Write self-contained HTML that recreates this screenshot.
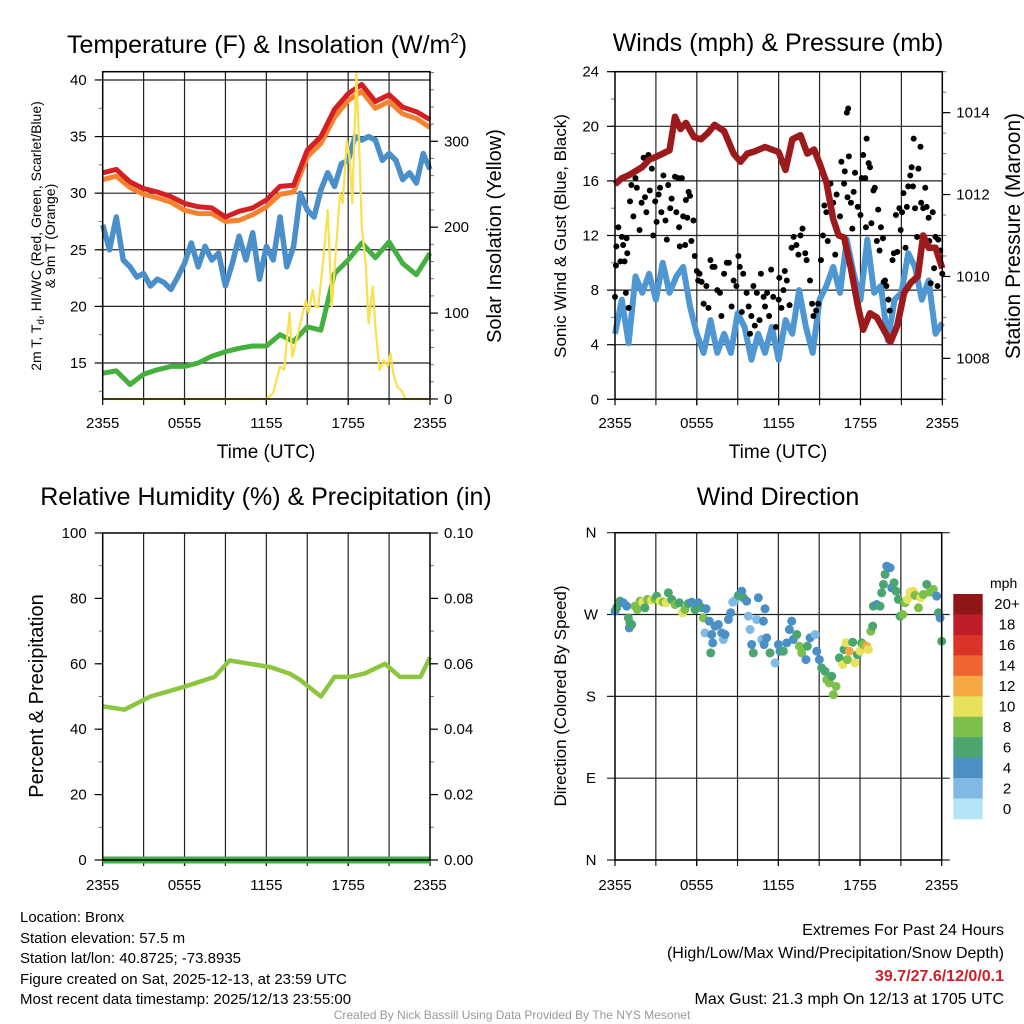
<!DOCTYPE html>
<html><head><meta charset="utf-8">
<style>
html,body{margin:0;padding:0;background:#fff;}
svg{display:block;font-family:"Liberation Sans",Arial,sans-serif;}
</style></head>
<body>
<svg id="c" width="1024" height="1024" viewBox="0 0 1024 1024" xmlns="http://www.w3.org/2000/svg">
<g id="g-text">
<text x="267" y="53" font-size="25" text-anchor="middle">Temperature (F) &amp; Insolation (W/m<tspan font-size="15" dy="-10">2</tspan><tspan dy="10">)</tspan></text>
<text x="778" y="51" font-size="25" text-anchor="middle">Winds (mph) &amp; Pressure (mb)</text>
<text x="266" y="505" font-size="25" text-anchor="middle">Relative Humidity (%) &amp; Precipitation (in)</text>
<text x="778" y="505" font-size="25" text-anchor="middle">Wind Direction</text>
<text x="266" y="458" font-size="19" text-anchor="middle">Time (UTC)</text>
<text x="778" y="458" font-size="19" text-anchor="middle">Time (UTC)</text>
<text transform="translate(41,236) rotate(-90)" font-size="14" text-anchor="middle">2m T, T<tspan font-size="10" dy="3">d</tspan><tspan dy="-3">, HI/WC (Red, Green, Scarlet/Blue)</tspan></text>
<text transform="translate(55,236) rotate(-90)" font-size="14" text-anchor="middle">&amp; 9m T (Orange)</text>
<text transform="translate(501,236) rotate(-90)" font-size="20" text-anchor="middle">Solar Insolation (Yellow)</text>
<text transform="translate(566,236) rotate(-90)" font-size="17" text-anchor="middle">Sonic Wind &amp; Gust (Blue, Black)</text>
<text transform="translate(1020,236) rotate(-90)" font-size="21" text-anchor="middle">Station Pressure (Maroon)</text>
<text transform="translate(43,696) rotate(-90)" font-size="20" text-anchor="middle">Percent &amp; Precipitation</text>
<text transform="translate(566,696) rotate(-90)" font-size="17" text-anchor="middle">Direction (Colored By Speed)</text>
<text x="990" y="588" font-size="14" text-anchor="start">mph</text>
<g font-size="15">
<text x="20" y="922">Location: Bronx</text>
<text x="20" y="943">Station elevation: 57.5 m</text>
<text x="20" y="963">Station lat/lon: 40.8725; -73.8935</text>
<text x="20" y="984">Figure created on Sat, 2025-12-13, at 23:59 UTC</text>
<text x="20" y="1004">Most recent data timestamp: 2025/12/13 23:55:00</text>
</g>
<g font-size="16" text-anchor="end">
<text x="1004" y="935">Extremes For Past 24 Hours</text>
<text x="1004" y="958">(High/Low/Max Wind/Precipitation/Snow Depth)</text>
<text x="1004" y="981" fill="#d0202a" font-weight="bold">39.7/27.6/12/0/0.1</text>
<text x="1004" y="1004">Max Gust: 21.3 mph On 12/13 at 1705 UTC</text>
</g>
<text x="512" y="1019" font-size="12" fill="#999" text-anchor="middle">Created By Nick Bassill Using Data Provided By The NYS Mesonet</text>
</g>
</svg>
<script>
// ---------- data ----------
const hours = [0,1,2,3,4,5,6,7,8,9,10,11,12,13,14,15,16,17,18,19,20,21,22,23,24];
const tempRed = [31.8,32.1,31.0,30.4,30.1,29.7,29.1,28.8,28.7,27.9,28.4,28.7,29.4,30.6,30.7,33.8,35.0,37.4,38.8,39.6,38.1,38.7,37.6,37.2,36.5];
const tempOrange = [31.2,31.5,30.5,29.9,29.6,29.2,28.5,28.2,28.2,27.5,27.6,28.1,28.8,29.9,30.1,33.2,34.4,36.7,38.2,39.0,37.5,38.1,37.0,36.6,35.8];
const windChill = [14.1,14.3,13.1,14.0,14.4,14.7,14.7,15.0,15.6,16.0,16.3,16.5,16.5,17.5,16.9,18.2,17.9,22.9,24.1,25.6,24.3,25.7,23.8,22.8,24.7];
const halfHours = [0,0.5,1,1.5,2,2.5,3,3.5,4,4.5,5,5.5,6,6.5,7,7.5,8,8.5,9,9.5,10,10.5,11,11.5,12,12.5,13,13.5,14,14.5,15,15.5,16,16.5,17,17.5,18,18.5,19,19.5,20,20.5,21,21.5,22,22.5,23,23.5,24];
const dewpoint = [27.2,25.0,27.9,24.1,23.5,22.6,22.9,21.8,22.4,22.1,21.5,22.6,23.8,25.6,23.5,25.3,24.1,24.7,21.8,23.8,26.2,24.1,26.5,22.4,25.3,24.1,27.9,23.5,25.3,30.0,28.5,27.9,30.3,31.8,30.6,32.6,32.9,35.0,34.7,35.0,34.7,32.9,33.5,32.9,31.2,31.8,30.9,33.5,32.1];
const solarTimes = [0,12,12.5,13,13.3,13.7,13.9,14.2,14.5,14.9,15.1,15.4,15.6,15.8,16.2,16.5,16.8,17.1,17.4,17.6,17.9,18.1,18.3,18.6,18.8,19.0,19.3,19.5,19.8,20.0,20.3,20.6,20.9,21.1,21.3,21.6,21.9,22.2,24];
const solarValues = [0,0,7,38,34,100,49,69,88,115,100,127,107,107,166,220,107,173,239,228,301,282,228,379,298,200,154,88,131,84,34,45,38,53,30,14,10,0,0];
const sonicWind = [4.8,7.3,4.1,9.0,7.8,9.2,7.3,10.0,7.8,9.0,9.7,6.8,4.8,3.4,5.8,3.4,4.8,3.4,6.3,5.3,2.9,4.8,3.4,5.3,2.9,5.8,4.8,8.0,5.3,3.4,7.3,8.3,9.7,7.8,11.7,9.2,7.3,11.7,7.8,8.3,4.3,7.3,7.8,10.7,9.7,7.3,8.7,4.8,5.6];
const pressTimes = [0,0.5,1,2,2.5,3,4,4.4,4.8,5.2,5.8,6.3,6.8,7.3,8,8.7,9.2,9.7,10.2,11,11.5,12,12.5,13,13.6,14.1,14.6,15,15.5,16,16.4,16.8,17.3,17.8,18.2,18.7,19.2,19.7,20.2,20.7,21.2,21.7,22.2,22.6,23,23.5,24];
const pressValues = [1012.25,1012.4,1012.47,1012.67,1012.85,1012.92,1013.08,1013.9,1013.6,1013.75,1013.4,1013.35,1013.5,1013.7,1013.55,1013.0,1012.8,1013.0,1013.05,1013.16,1013.1,1013.04,1012.6,1013.35,1013.45,1013.0,1013.1,1012.76,1012.3,1011.4,1011.0,1010.95,1010.2,1009.3,1008.7,1009.1,1009.0,1008.7,1008.4,1008.8,1009.6,1009.85,1010.0,1011.0,1010.7,1010.7,1010.2];
const gustTimes = [0,0.07,0.1,0.25,0.4,0.5,0.6,0.7,0.85,0.9,0.8,1.0,1.1,1.2,1.35,1.5,1.6,1.8,1.95,2.1,2.2,2.3,2.45,2.55,2.7,2.8,2.95,3.05,3.2,3.3,3.4,3.55,3.7,3.8,3.9,4.05,4.15,4.3,4.4,4.5,4.65,4.7,4.75,4.9,5.0,5.15,5.2,5.3,5.4,5.5,5.6,5.75,5.85,6.0,6.1,6.2,6.35,6.5,6.7,6.85,7.0,7.15,7.3,7.5,7.7,7.8,8.0,8.2,8.35,8.55,8.7,8.9,9.05,9.15,9.3,9.4,9.65,9.8,9.9,10.0,10.15,10.25,10.4,10.6,10.7,10.9,11.0,11.15,11.3,11.45,11.6,11.8,12.0,12.05,12.2,12.35,12.45,12.6,12.8,12.95,13.1,13.3,13.45,13.6,13.75,13.95,14.05,14.3,14.45,14.55,14.75,14.9,15.1,15.25,15.35,15.5,15.6,15.8,16.0,16.15,16.25,16.5,16.6,16.8,16.85,17.0,17.1,17.05,17.15,17.3,17.4,17.5,17.6,17.8,18.0,18.1,18.2,18.35,18.4,18.45,18.6,18.7,18.8,18.95,19.05,19.2,19.3,19.4,19.5,19.65,19.7,19.8,19.9,20.05,20.15,20.35,20.45,20.6,20.7,20.85,20.95,21.05,21.15,21.3,21.4,21.5,21.65,21.75,21.85,21.9,22.0,22.15,22.25,22.4,22.45,22.6,22.75,22.85,23.0,23.05,23.15,23.3,23.4,23.5,23.65,23.7,23.85,24.0];
const gustValues = [7.5,9.8,11.2,12.6,10.1,11.9,11.3,10.1,11.8,10.7,7.8,6.7,14.5,15.7,13.4,16.2,15.5,12.4,14.4,17.7,14.8,13.7,17.9,15.3,16.9,12.0,14.5,13.0,15.0,15.5,13.7,16.4,13.1,11.7,15.7,14.0,14.7,20.2,16.3,13.7,16.2,12.6,11.2,16.2,13.4,11.3,14.6,13.3,15.2,14.9,11.6,13.1,10.5,9.4,8.7,9.2,8.6,7.0,8.3,6.7,10.2,9.7,9.7,8.0,7.8,6.1,9.2,10.0,10.0,6.8,8.7,8.3,10.5,9.7,6.4,9.2,7.8,6.8,4.8,6.1,8.3,5.4,7.8,5.8,9.2,7.5,6.8,7.8,6.1,9.5,7.5,5.3,7.3,8.9,6.7,8.0,9.4,8.7,6.9,11.1,11.9,11.3,10.6,12.0,12.5,10.7,10.2,8.7,7.0,6.1,6.5,7.0,10.2,12.0,14.2,13.7,11.6,15.8,14.4,10.6,15.0,13.4,17.4,15.8,16.7,21.0,21.3,14.8,17.8,14.4,12.5,15.2,16.6,14.1,13.5,16.2,17.9,16.2,12.6,19.1,17.3,17.0,12.9,15.3,15.5,11.6,13.9,10.9,12.6,11.8,8.6,8.7,8.3,7.3,6.5,10.2,10.7,13.5,10.8,14.0,12.4,13.7,15.1,11.1,14.1,15.6,16.4,17.0,15.6,19.1,14.0,11.9,16.9,18.5,14.4,14.0,15.5,14.1,13.3,11.6,8.5,13.7,9.6,11.9,8.3,11.7,10.9,9.2];
const rhTimes = [0,1.6,3.5,6.0,8.2,9.3,10.8,12.3,13.7,14.5,16.0,17.0,18.1,19.2,20.7,21.8,23.3,24];
const rhValues = [47,46,50,53,56,61,60,59,57,55,50,56,56,57,60,56,56,62];
const precipTimes = [0,24];
const precipValues = [0,0];
const dirTimes = [0,0.12,0.37,0.61,0.86,0.98,1.1,1.05,1.22,1.47,1.64,1.84,2.03,2.2,2.38,2.69,2.94,3.06,3.31,3.55,3.75,3.92,4.16,4.41,4.73,4.97,5.14,5.39,5.63,5.88,6.12,6.37,6.49,6.69,6.61,6.93,7.1,7.18,7.03,7.35,7.59,7.84,7.96,8.08,8.33,8.5,8.65,8.82,9.06,9.31,9.43,9.67,9.8,9.92,10.04,10.16,10.41,10.53,10.78,10.9,11.02,10.95,11.14,11.39,11.76,12.0,12.12,12.37,12.61,12.81,12.98,13.1,13.35,13.54,13.72,14.03,14.13,14.33,14.7,14.82,15.01,15.18,15.43,15.55,15.75,15.92,16.04,16.24,16.48,16.73,16.83,16.97,17.07,17.22,17.46,17.63,17.81,18.0,18.12,18.25,18.49,18.61,18.79,18.93,18.98,19.23,19.47,19.59,19.72,19.84,19.96,20.21,20.33,20.5,20.65,20.82,20.94,21.14,21.31,21.48,21.68,21.92,22.04,22.29,22.46,22.65,22.9,23.14,23.39,23.63,23.76,23.88,24.0];
const dirDegrees = [273.7,277.4,284.7,282.9,279.2,266.3,260.8,255.3,259.0,279.2,275.5,284.7,283.6,277.4,286.6,285.8,287.3,290.2,284.7,283.6,282.9,293.9,286.6,281.0,282.9,271.9,275.5,282.1,283.6,275.5,282.9,277.4,266.3,276.3,249.8,262.7,248.0,238.8,227.8,257.2,259.0,249.8,242.5,248.0,264.5,271.9,283.6,285.5,291.0,295.7,288.4,284.7,268.2,253.5,237.0,227.8,264.5,288.4,242.5,262.7,276.3,237.0,244.3,227.8,216.8,237.0,229.6,229.6,238.8,253.5,262.7,242.5,248.0,235.1,227.8,220.4,235.1,244.3,248.0,229.6,220.4,211.2,207.6,198.4,194.7,202.1,181.9,191.0,222.3,214.9,231.4,238.8,220.4,229.6,239.5,216.8,225.9,229.6,238.8,237.0,235.1,231.4,251.7,257.2,279.2,281.0,279.2,293.9,303.1,314.1,323.3,321.5,299.4,304.9,295.7,286.6,268.2,270.0,282.9,286.6,294.6,295.7,291.0,277.4,288.4,292.1,303.1,294.6,297.6,290.2,271.9,266.3,240.6];
const dirSpeeds = [5,7,7,5,5,7,7,5,7,9,9,9,11,7,9,11,9,7,11,9,11,7,7,9,7,11,9,7,5,7,5,7,9,5,3,5,5,5,7,5,5,5,3,5,5,5,3,3,7,5,7,5,3,3,5,7,3,5,3,5,5,5,5,7,3,5,5,7,5,5,5,5,7,9,9,5,7,5,3,5,5,7,7,9,9,7,9,9,7,11,7,11,9,13,7,11,7,11,7,9,13,11,9,7,7,5,7,7,7,7,5,5,5,7,7,7,7,9,9,11,11,11,9,9,11,9,7,9,9,5,7,5,7];
const timeTickLabels = ["2355","0555","1155","1755","2355"];
const tempTicks = [15,20,25,30,35,40];
const solarTicks = [0,100,200,300];
const windTicks = [0,4,8,12,16,20,24];
const pressTicks = [1008,1010,1012,1014];
const rhTicks = [0,20,40,60,80,100];
const precipTicks = [0,0.02,0.04,0.06,0.08,0.10];
const dirTicks = [0,90,180,270,360];
const dirTickLabels = ["N","E","S","W","N"];
const colorbarLabels = ["0","2","4","6","8","10","12","14","16","18","20+"];
const colorbarColors = ["#b5e3f7","#80bae4","#4a8fc6","#4aa56e","#7cc04b","#e6e25a","#f5a744","#ef6430","#d9332a","#bd1e27","#8e1518"];

// ---------- helpers ----------
const NS = "http://www.w3.org/2000/svg";
const svg = document.getElementById('c');
function mk(tag, attrs, parent){
  const el = document.createElementNS(NS, tag);
  for (const k in attrs) el.setAttribute(k, attrs[k]);
  (parent || svg).appendChild(el);
  return el;
}
function lin(d0,d1,r0,r1){ return v => r0 + (v-d0)/(d1-d0)*(r1-r0); }
function txt(x,y,s,anchor,size,parent){
  const t = mk('text',{x:x,y:y,'font-size':size||14,'text-anchor':anchor||'middle'},parent);
  t.textContent = s;
  return t;
}
function pathD(xs,ys,sx,sy){ return xs.map((t,i)=>(i?'L':'M')+sx(t).toFixed(1)+' '+sy(ys[i]).toFixed(1)).join(''); }

function panel(name,x0,x1,y0,y1){
  const g = mk('g',{});
  
  
  const sx = lin(0,24,x0,x1);
  return {g,sx,x0,x1,y0,y1};
}
function timeAxis(p,labelY){
  for (let h=3; h<24; h+=3){
    const l = mk('line',{x1:p.sx(h),x2:p.sx(h),y1:p.y0,y2:p.y1+6,stroke:'#222','stroke-width':1.2},p.g);
    
    
  }
  timeTickLabels.forEach((s,i)=>{
    const h = i*6;
    const tk = mk('line',{x1:p.sx(h),x2:p.sx(h),y1:p.y1,y2:p.y1+6,stroke:'#000','stroke-width':1.2},p.g);
    
    
    const t = txt(p.sx(h),labelY,s,'middle',15,p.g);
    
    
  });
}
function frame(p){
  const r = mk('rect',{x:p.x0,y:p.y0,width:p.x1-p.x0,height:p.y1-p.y0,fill:'none',stroke:'#000','stroke-width':1.5},p.g);
  
  
}
function yAxis(p,ticks,sy,side,fmt,grid,minorStep,dmin,dmax){
  const x = side==='left'?p.x0:p.x1;
  const dir = side==='left'?-1:1;
  if (minorStep){
    for (let v=Math.ceil(dmin/minorStep)*minorStep; v<=dmax+1e-9; v+=minorStep){
      const m = mk('line',{x1:x,x2:x+dir*4,y1:sy(v),y2:sy(v),stroke:'#777','stroke-width':1},p.g);
      
      
    }
  }
  ticks.forEach(v=>{
    const y = sy(v);
    if (grid){
      const gl = mk('line',{x1:p.x0,x2:p.x1,y1:y,y2:y,stroke:'#222','stroke-width':1.2},p.g);
      
      
    }
    const tk = mk('line',{x1:x,x2:x+dir*8,y1:y,y2:y,stroke:'#000','stroke-width':1.2},p.g);
    
    
    const t = txt(side==='left'?x-16:x+14,y+5,fmt(v),side==='left'?'end':'start',15,p.g);
    
    
  });
}

// ---------- Panel 1: temperature ----------
const p1 = panel('temperature-chart',102.7,430,71.7,399);
const s1 = lin(11.82,40.73,399,71.7);
const s1r = lin(0,381,399,71.7);
timeAxis(p1,428);
yAxis(p1,tempTicks,s1,'left',v=>String(v),true,2.5,12,40.7);
yAxis(p1,solarTicks,s1r,'right',v=>String(v),false,20,0,380);
let e;
e = mk('path',{d:pathD(hours,windChill,p1.sx,s1),fill:'none',stroke:'#45b040','stroke-width':5,'stroke-linejoin':'round'},p1.g);


e = mk('path',{d:pathD(halfHours,dewpoint,p1.sx,s1),fill:'none',stroke:'#4a8fc9','stroke-width':5.5,'stroke-linejoin':'round'},p1.g);


e = mk('path',{d:pathD(hours,tempOrange,p1.sx,s1),fill:'none',stroke:'#f5822e','stroke-width':5,'stroke-linejoin':'round'},p1.g);


e = mk('path',{d:pathD(hours,tempRed,p1.sx,s1),fill:'none',stroke:'#d42025','stroke-width':5,'stroke-linejoin':'round'},p1.g);


e = mk('path',{d:pathD(solarTimes,solarValues,p1.sx,s1r),fill:'none',stroke:'#f8e04e','stroke-width':2.2,'stroke-linejoin':'round'},p1.g);


frame(p1);

// ---------- Panel 2: winds ----------
const p2 = panel('winds-chart',615,942.3,71.7,399.3);
const s2 = lin(0,24,399.3,71.7);
const s2r = lin(1007,1015,399.3,71.7);
timeAxis(p2,428);
yAxis(p2,windTicks,s2,'left',v=>String(v),true,2,0,24);
yAxis(p2,pressTicks,s2r,'right',v=>String(v),false,0.5,1007,1015);
e = mk('path',{d:pathD(halfHours,sonicWind,p2.sx,s2),fill:'none',stroke:'#4f97d3','stroke-width':6,'stroke-linejoin':'round'},p2.g);


gustTimes.forEach((t,i)=>{
  const c = mk('circle',{cx:p2.sx(Math.min(24,t)),cy:s2(gustValues[i]),r:3,fill:'#000'},p2.g);
  
  
});
e = mk('path',{d:pathD(pressTimes,pressValues,p2.sx,s2r),fill:'none',stroke:'#9c1a1c','stroke-width':6.5,'stroke-linejoin':'round'},p2.g);


frame(p2);

// ---------- Panel 3: humidity ----------
const p3 = panel('humidity-chart',102.7,430,533,860);
const s3 = lin(0,100,860,533);
const s3r = lin(0,0.1,860,533);
timeAxis(p3,890);
yAxis(p3,rhTicks,s3,'left',v=>String(v),false,10,0,100);
yAxis(p3,precipTicks,s3r,'right',v=>v.toFixed(2),false,0.01,0,0.1);
e = mk('path',{d:pathD(rhTimes,rhValues,p3.sx,s3),fill:'none',stroke:'#8cc63f','stroke-width':4.5,'stroke-linejoin':'round'},p3.g);


e = mk('path',{d:pathD(precipTimes,precipValues,p3.sx,s3r),fill:'none',stroke:'#3fae49','stroke-width':7},p3.g);


frame(p3);

// ---------- Panel 4: wind direction ----------
const p4 = panel('wind-direction-chart',615,941.7,532.7,860);
const s4 = lin(0,360,860,532.7);
timeAxis(p4,890);
dirTicks.forEach((v,i)=>{
  const y = s4(v);
  const gl = mk('line',{x1:p4.x0-8,x2:p4.x1+8,y1:y,y2:y,stroke:'#222','stroke-width':1.2},p4.g);
  
  
  const t = txt(591,y+5,dirTickLabels[i],'middle',15,p4.g);
  
  
});
function speedColor(s){ return colorbarColors[Math.min(10,Math.max(0,Math.floor(s/2)))]; }
dirTimes.forEach((t,i)=>{
  const c = mk('circle',{cx:p4.sx(t),cy:s4(dirDegrees[i]),r:4.5,fill:speedColor(dirSpeeds[i])},p4.g);
  
  
});
frame(p4);
// colorbar
const cb = mk('g',{});


const cbTop = 594, cbH = 225/11;
colorbarLabels.forEach((lab,i)=>{
  const idx = 10-i;
  const y = cbTop + i*cbH;
  const r = mk('rect',{x:953.3,y:y,width:29.4,height:cbH+0.3,fill:colorbarColors[idx]},cb);
  
  
  const t = txt(1007,y+cbH/2+5,colorbarLabels[idx],'middle',15,cb);
  
  
});
</script>
</body></html>
